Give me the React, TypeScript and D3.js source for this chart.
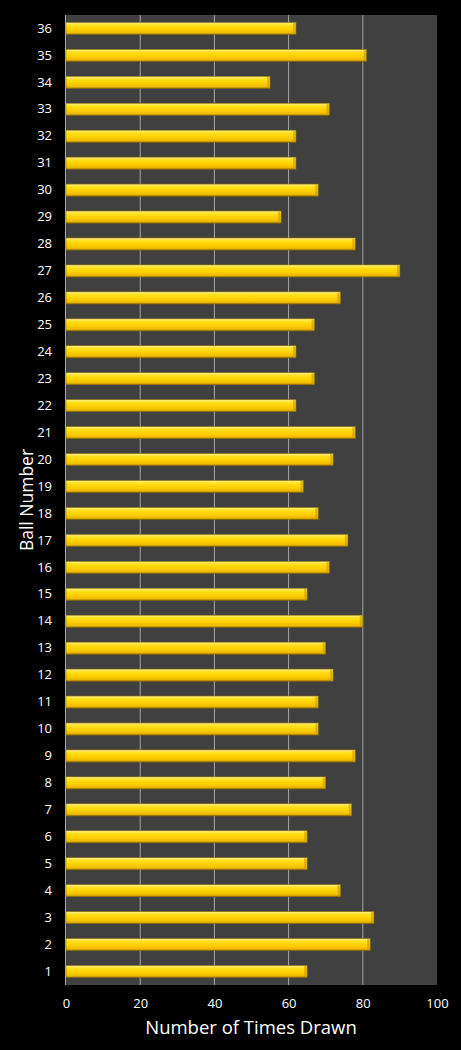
import React, { useRef, useEffect } from 'react';
import * as d3 from 'd3';

// ball numbers 1..36, counts
const balls: string[] = [
    '1', '2', '3', '4', '5', '6', '7', '8', '9', '10', '11', '12',
    '13', '14', '15', '16', '17', '18', '19', '20', '21', '22', '23', '24',
    '25', '26', '27', '28', '29', '30', '31', '32', '33', '34', '35', '36',
];
const timesDrawn: number[] = [
    65, 82, 83, 74, 65, 65, 77, 70, 78, 68, 68, 72,
    70, 80, 65, 71, 76, 68, 64, 72, 78, 62, 67, 62,
    67, 74, 90, 78, 58, 68, 62, 62, 71, 55, 81, 62,
];
const xTicks: number[] = [0, 20, 40, 60, 80, 100];

const WIDTH = 461;
const HEIGHT = 1050;
const FONT = "'Open Sans', 'Noto Sans', sans-serif";

const App: React.FC = () => {
    const svgRef = useRef<SVGSVGElement | null>(null);

    useEffect(() => {
        if (!svgRef.current) return;
        const svg = d3.select(svgRef.current);
        svg.selectAll('*').remove();

        const margin = { top: 15, right: 24, bottom: 65, left: 66 };
        const innerWidth = WIDTH - margin.left - margin.right;
        const innerHeight = HEIGHT - margin.top - margin.bottom;

        const data = balls.map((b, i) => ({ ball: b, value: timesDrawn[i] }));

        const x = d3.scaleLinear().domain([0, 100]).range([0, innerWidth]);
        const y = d3
            .scaleBand()
            .domain([...balls].reverse())
            .range([0, innerHeight])
            .paddingInner(0.55)
            .paddingOuter(0.275);

        svg.append('rect')
            .attr('width', WIDTH)
            .attr('height', HEIGHT)
            .attr('fill', '#000');

        const defs = svg.append('defs');
        const grad = defs
            .append('linearGradient')
            .attr('id', 'gold')
            .attr('x1', 0)
            .attr('y1', 0)
            .attr('x2', 0)
            .attr('y2', 1);
        [
            ['0%', '#fff29a'],
            ['22%', '#ffe01f'],
            ['55%', '#ffd000'],
            ['85%', '#efbb00'],
            ['100%', '#a57f00'],
        ].forEach(([o, c]) => grad.append('stop').attr('offset', o).attr('stop-color', c));

        const g = svg
            .append('g')
            .attr('transform', `translate(${margin.left},${margin.top})`);

        g.append('rect')
            .attr('width', innerWidth)
            .attr('height', innerHeight)
            .attr('fill', '#404040');

        // vertical gridlines
        g.append('g')
            .selectAll('line')
            .data(xTicks.slice(1, -1))
            .enter()
            .append('line')
            .attr('x1', (d) => x(d))
            .attr('x2', (d) => x(d))
            .attr('y1', 0)
            .attr('y2', innerHeight)
            .attr('stroke', '#a6a6a6')
            .attr('stroke-width', 1);

        // bars
        g.append('g')
            .selectAll('rect')
            .data(data)
            .enter()
            .append('rect')
            .attr('x', 0)
            .attr('y', (d) => y(d.ball)!)
            .attr('width', (d) => x(d.value))
            .attr('height', y.bandwidth())
            .attr('fill', 'url(#gold)')
            .attr('stroke', '#8a6a00')
            .attr('stroke-width', 0.6);

        // bar end bevel
        g.append('g')
            .selectAll('rect')
            .data(data)
            .enter()
            .append('rect')
            .attr('x', (d) => x(d.value) - 3)
            .attr('y', (d) => y(d.ball)! + 0.5)
            .attr('width', 2.5)
            .attr('height', y.bandwidth() - 1)
            .attr('fill', '#c99a00')
            .attr('opacity', 0.6);

        // left axis line
        g.append('line')
            .attr('x1', -0.5)
            .attr('x2', -0.5)
            .attr('y1', 0)
            .attr('y2', innerHeight)
            .attr('stroke', '#a6a6a6');

        const yAxis = g
            .append('g')
            .call(d3.axisLeft(y).tickSize(0).tickPadding(14));
        yAxis.select('.domain').remove();
        yAxis
            .selectAll('text')
            .attr('fill', '#fff')
            .style('font-family', FONT)
            .style('font-size', '13px');

        const xAxis = g
            .append('g')
            .attr('transform', `translate(0,${innerHeight})`)
            .call(
                d3
                    .axisBottom(x)
                    .tickValues(xTicks)
                    .tickSize(0)
                    .tickPadding(14),
            );
        xAxis.select('.domain').remove();
        xAxis
            .selectAll('text')
            .attr('fill', '#fff')
            .style('font-family', FONT)
            .style('font-size', '13px');

        svg.append('text')
            .attr('text-anchor', 'middle')
            .attr('x', 251)
            .attr('y', 1034)
            .attr('fill', '#fff')
            .style('font-family', FONT)
            .style('font-size', '18.5px')
            .text('Number of Times Drawn');

        svg.append('text')
            .attr('text-anchor', 'middle')
            .attr('transform', `translate(33,${margin.top + innerHeight / 2}) rotate(-90)`)
            .attr('fill', '#fff')
            .style('font-family', FONT)
            .style('font-size', '17.5px')
            .text('Ball Number');
    }, []);

    return (
        <svg
            ref={svgRef}
            width={WIDTH}
            height={HEIGHT}
            style={{ position: 'absolute', top: 0, left: 0, display: 'block' }}
        ></svg>
    );
};

export default App;
